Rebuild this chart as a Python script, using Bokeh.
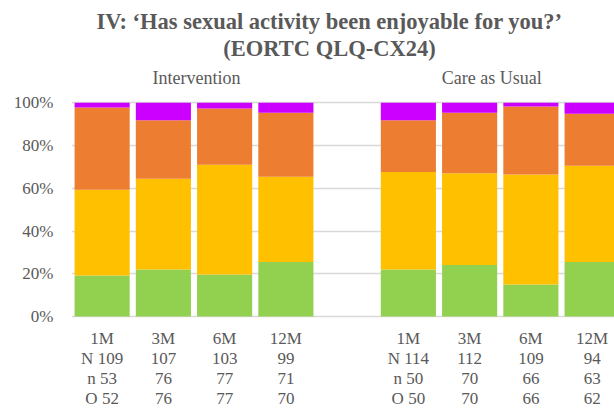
from bokeh.plotting import figure
from bokeh.models import ColumnDataSource, FixedTicker, NumeralTickFormatter, Range1d
from bokeh.core.properties import value
from bokeh.embed import file_html
from bokeh.resources import INLINE

groups = ["Intervention", "Care as Usual"]
timepoints = ["1M", "3M", "6M", "12M"]
N_int = ["N 109", "107", "103", "99"]
n_int = ["n 53", "76", "77", "71"]
O_int = ["O 52", "76", "77", "70"]
N_cau = ["N 114", "112", "109", "94"]
n_cau = ["n 50", "70", "66", "63"]
O_cau = ["O 50", "70", "66", "62"]

# stacked shares (percent), bottom to top
green_int = [19.2, 22.0, 19.6, 25.5]
yellow_int = [40.1, 42.5, 51.4, 39.9]
orange_int = [38.5, 27.3, 26.3, 29.9]
magenta_int = [2.2, 8.2, 2.7, 4.7]
green_cau = [22.0, 24.1, 15.0, 25.5]
yellow_cau = [45.6, 42.9, 51.5, 45.1]
orange_cau = [24.2, 28.3, 31.8, 24.3]
magenta_cau = [8.2, 4.7, 1.7, 5.1]

title_lines = ["IV: \u2018Has sexual activity been enjoyable for you?\u2019", "(EORTC QLQ-CX24)"]

colors = ["#92D050", "#FFC000", "#ED7D31", "#CC00FF"]
series = ["green", "yellow", "orange", "magenta"]

xs = []
data = {s: [] for s in series}
label_rows = [[], [], [], []]
for g, (tp_N, tp_n, tp_O, vals) in enumerate([
        (N_int, n_int, O_int, [green_int, yellow_int, orange_int, magenta_int]),
        (N_cau, n_cau, O_cau, [green_cau, yellow_cau, orange_cau, magenta_cau])]):
    for i, tp in enumerate(timepoints):
        xs.append(g * (len(timepoints) + 1) + i)
        for r, t in enumerate([tp, tp_N[i], tp_n[i], tp_O[i]]):
            label_rows[r].append(t)
        for s, v in zip(series, vals):
            data[s].append(v[i] / 100.0)

src = ColumnDataSource(dict(x=xs, **data))

serif = "Liberation Serif"
gray = "#595959"
W, H = 614, 414
px_per_unit = 213.7
y0_px = 316           # page y of 0%
left_px = 71
pitch = 61.25

p = figure(width=W, height=H, output_backend="svg", toolbar_location=None,
           x_axis_location=None,
           x_range=Range1d(-0.5, -0.5 + (W - left_px) / pitch),
           y_range=Range1d(-(H - y0_px) / px_per_unit, y0_px / px_per_unit),
           min_border_left=left_px, min_border_right=0, min_border_top=0, min_border_bottom=0)
p.outline_line_color = None
p.xgrid.visible = False
p.vbar_stack(series, x="x", width=0.9, color=colors, line_color=None, source=src)

ticks = [0, 0.2, 0.4, 0.6, 0.8, 1.0]
p.ygrid.ticker = FixedTicker(ticks=ticks)
p.ygrid.grid_line_color = "#D9D9D9"
p.ygrid.grid_line_width = 1.3
p.ygrid.level = "underlay"

p.yaxis.ticker = FixedTicker(ticks=ticks)
p.yaxis.formatter = NumeralTickFormatter(format="0%")
p.yaxis.axis_line_color = None
p.yaxis.major_tick_line_color = None
p.yaxis.minor_tick_line_color = None
p.yaxis.major_label_standoff = 12
p.yaxis.major_label_text_font = serif
p.yaxis.major_label_text_font_size = "17px"
p.yaxis.major_label_text_color = gray

def ydata(page_y):
    return (y0_px - page_y) / px_per_unit

# category labels below the bars
for r, row in enumerate(label_rows):
    p.text(x=xs, y=[ydata(338 + 20 * r)] * len(xs), text=row,
           text_align="center", text_baseline="alphabetic",
           text_font=value(serif), text_font_size="17px", text_color=gray)

# group headers
p.text(x=[1.54, 6.36], y=[ydata(77)] * 2, text=groups,
       text_align="center", text_baseline="alphabetic",
       text_font=value(serif), text_font_size="18px", text_color=gray)

# title
p.text(x=[3.712] * 2, y=[ydata(21), ydata(48)], text=title_lines,
       text_align="center", text_baseline="alphabetic",
       text_font=value(serif), text_font_size="22.5px", text_font_style="bold", text_color=gray)

open("out.html", "w").write(file_html(p, INLINE))
